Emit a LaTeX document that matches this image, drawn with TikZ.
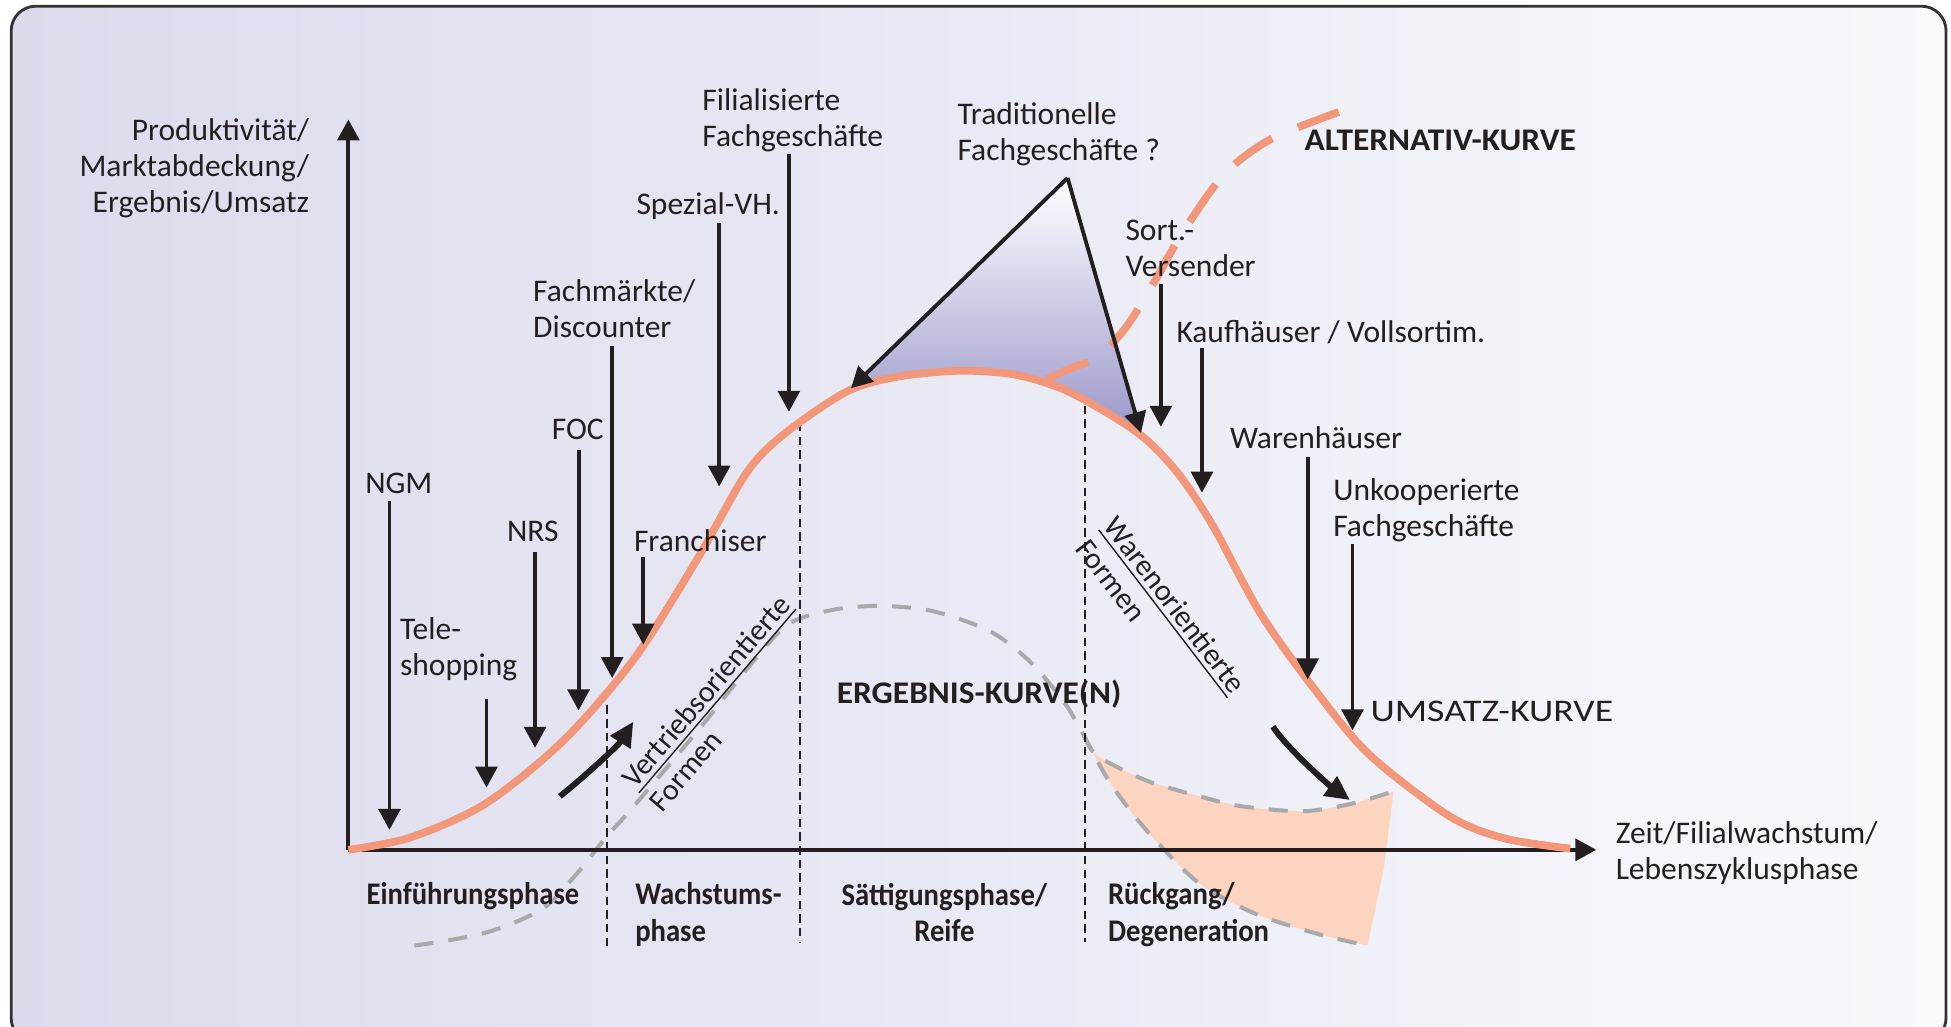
\documentclass[tikz,border=0pt]{standalone}
\usepackage{fontspec}
\setmainfont{Carlito}
\usetikzlibrary{arrows.meta}
\definecolor{ink}{HTML}{231F20}
\definecolor{umsatz}{HTML}{F3977B}
\definecolor{ergebnis}{HTML}{A9A9AB}
\definecolor{peach}{HTML}{FDD4BF}
\definecolor{bgl}{HTML}{DBDBED}
\definecolor{bgr}{HTML}{F9F9FC}
\definecolor{tri}{HTML}{9B97CA}
\begin{document}
\begin{tikzpicture}[x=0.0125cm, y=-0.0125cm,
  every node/.style={font=\fontsize{9}{10.3}\selectfont, text=ink, inner sep=0pt},
  lbl/.style={align=left, anchor=north west},
  phase/.style={lbl, font=\fontsize{9}{10.3}\selectfont\bfseries\addfontfeature{FakeStretch=0.91}},
  caps/.style={lbl, font=\fontsize{9}{10.3}\selectfont\bfseries\addfontfeature{FakeStretch=1.06}},
  slant/.style={anchor=base west, font=\fontsize{8.6}{10}\selectfont},
  arr/.style={draw=ink, line width=1.1pt, -{Triangle[length=6pt, width=6.2pt]}},
  axis/.style={draw=ink, line width=1.2pt, -{Triangle[length=6pt, width=6.2pt]}},
  bow/.style={draw=ink, line width=1.7pt, -{Triangle[length=7pt, width=6.5pt]}},
  sep/.style={draw=ink, line width=0.55pt, dash pattern=on 2.4pt off 1.5pt},
  kurve/.style={draw=umsatz, line width=2.2pt},
  alt/.style={draw=umsatz, line width=2.2pt, dash pattern=on 13pt off 8pt},
  erg/.style={draw=ergebnis, line width=1.15pt, dash pattern=on 5.5pt off 4.3pt}]
\useasboundingbox (0,0) rectangle (1568,825);
\clip (0,0) rectangle (1568,825);
\fill[white] (0,0) rectangle (1568,825);
\draw[line width=0.8pt, draw=black!80, rounded corners=7pt, left color=bgl, right color=bgr] (9,5) rectangle (1564,838);

\begin{scope}
  \clip plot[smooth] coordinates {(280,683) (330,673) (390,646) (453,595) (510,529) (560,450) (600,380) (630,349) (680,315) (720,303) (771,298) (815,301) (855,313) (895,335) (922,354) (948,382) (975,423) (1013,493) (1055,552) (1100,606) (1165,656) (1210,674) (1262,682)} -- (1262,0) -- (280,0) -- cycle;
  \fill[top color=white, bottom color=tri] (858,143) -- (684,312) -- (917,348) -- cycle;
\end{scope}

\fill[peach] plot[smooth] coordinates {(871,591) (880,606) (901,618) (926,629) (964,640) (998,648) (1047,652) (1086,646) (1120,636)} -- (1112,699) -- plot[smooth] coordinates {(1099,760) (1057,750) (1008,734) (964,710) (931,678) (908,651) (889,624) (871,591)} -- cycle;
\draw[erg] plot[smooth] coordinates {(333,760) (389,750) (435,731) (462,704) (487,673) (505,653) (540,612) (570,576) (600,538) (633,502) (670,490) (707,487) (749,491) (795,507) (827,531) (855,564) (871,591) (889,624) (908,651) (931,678) (964,710) (1008,734) (1057,750) (1099,760)};
\draw[erg] plot[smooth] coordinates {(871,591) (880,606) (901,618) (926,629) (964,640) (998,648) (1047,652) (1086,646) (1120,636)};

\coordinate (p1a) at (488,567);
\coordinate (p1b) at (488,760);
\coordinate (p2a) at (643,340);
\coordinate (p2b) at (643,757);
\coordinate (p3a) at (872,326);
\coordinate (p3b) at (872,757);
\draw[sep] (p1a) -- (p1b);
\draw[sep] (p2a) -- (p2b);
\draw[sep] (p3a) -- (p3b);

\coordinate (O) at (280,683);
\coordinate (ytop) at (280,96);
\coordinate (xend) at (1283,683);
\draw[axis] (O) -- (ytop);
\draw[axis] (O) -- (xend);

\draw[kurve] plot[smooth] coordinates {(280,683) (330,673) (390,646) (453,595) (510,529) (560,450) (600,380) (630,349) (680,315) (720,303) (771,298) (815,301) (855,313) (895,335) (922,354) (948,382) (975,423) (1013,493) (1055,552) (1100,606) (1165,656) (1210,674) (1262,682)};
\draw[alt] plot[smooth] coordinates {(841,305) (858,297) (882,287) (905,263) (928,226) (951,186) (984,140) (1021,112) (1076,90)};

\coordinate (apex) at (858,143);
\coordinate (trL) at (684,312);
\coordinate (trR) at (917,348);
\draw[arr] (apex) -- (trL);
\draw[arr] (apex) -- (trR);

\coordinate (ngm-a) at (313,403);
\coordinate (ngm-b) at (313,667);
\coordinate (tele-a) at (391,562);
\coordinate (tele-b) at (391,633);
\coordinate (nrs-a) at (430,444);
\coordinate (nrs-b) at (430,601);
\coordinate (foc-a) at (465,362);
\coordinate (foc-b) at (465,571);
\coordinate (fm-a) at (492,278);
\coordinate (fm-b) at (492,545);
\coordinate (fran-a) at (517,448);
\coordinate (fran-b) at (517,518);
\coordinate (spez-a) at (578,179);
\coordinate (spez-b) at (578,391);
\coordinate (fil-a) at (634,124);
\coordinate (fil-b) at (634,331);
\coordinate (sort-a) at (933,228);
\coordinate (sort-b) at (933,343);
\coordinate (kauf-a) at (966,280);
\coordinate (kauf-b) at (966,396);
\coordinate (waren-a) at (1051,367);
\coordinate (waren-b) at (1051,546);
\coordinate (unko-a) at (1087,437);
\coordinate (unko-b) at (1087,587);
\draw[arr] (ngm-a) -- (ngm-b);
\draw[arr] (tele-a) -- (tele-b);
\draw[arr] (nrs-a) -- (nrs-b);
\draw[arr] (foc-a) -- (foc-b);
\draw[arr] (fm-a) -- (fm-b);
\draw[arr] (fran-a) -- (fran-b);
\draw[arr] (spez-a) -- (spez-b);
\draw[arr] (fil-a) -- (fil-b);
\draw[arr] (sort-a) -- (sort-b);
\draw[arr] (kauf-a) -- (kauf-b);
\draw[arr] (waren-a) -- (waren-b);
\draw[arr] (unko-a) -- (unko-b);

\coordinate (vb-a) at (450,640);
\coordinate (vb-b) at (509,580);
\coordinate (wo-a) at (1023,584);
\coordinate (wo-b) at (1085,643);
\draw[bow] (vb-a) .. controls (470,624) and (497,599) .. (vb-b);
\draw[bow] (wo-a) .. controls (1035,602) and (1068,631) .. (wo-b);

\node[lbl, anchor=north east, align=right] (yax) at (249,95) {Produktivität/\\Marktabdeckung/\\Ergebnis/Umsatz};
\node[lbl] (xax) at (1298,660) {Zeit/Filialwachstum/\\Lebenszyklusphase};
\node[lbl] (ngm) at (293,380) {NGM};
\node[lbl] (tele) at (321,496) {Tele-\\shopping};
\node[lbl] (nrs) at (407,418) {NRS};
\node[lbl] (foc) at (443,336) {FOC};
\node[lbl] (fm) at (428,224) {Fachmärkte/\\Discounter};
\node[lbl] (fran) at (509,425) {Franchiser};
\node[lbl] (spez) at (511,154) {Spezial-VH.};
\node[lbl] (fil) at (564,71) {Filialisierte\\Fachgeschäfte};
\node[lbl] (trad) at (769,82) {Traditionelle\\Fachgeschäfte ?};
\node[lbl] (sort) at (904,176) {Sort.-\\Versender};
\node[lbl] (kauf) at (945,257) {Kaufhäuser / Vollsortim.};
\node[lbl] (waren) at (988,342) {Warenhäuser};
\node[lbl] (unko) at (1071,384) {Unkooperierte\\Fachgeschäfte};
\node[lbl, font=\fontsize{9}{10.3}\selectfont\addfontfeature{FakeStretch=1.2}] (umsatz) at (1101,563) {UMSATZ-KURVE};
\node[caps] (alttxt) at (1048,104) {ALTERNATIV-KURVE};
\node[caps] (ergtxt) at (672,546) {ERGEBNIS-KURVE(N)};
\node[slant, rotate=49.5] (vb1) at (510,635) {\underline{Vertriebsorientierte}};
\node[slant, rotate=49.5] (vb2) at (532,654) {Formen};
\node[slant, rotate=-52.5] (wo1) at (886,423) {\underline{Warenorientierte}};
\node[slant, rotate=-52.5] (wo2) at (863,441) {Formen};
\node[phase] (einf) at (294,709) {Einführungsphase};
\node[phase] (wachs) at (510,709) {Wachstums-\\phase};
\node[phase, anchor=north, align=center] (saett) at (759,709) {Sättigungsphase/\\Reife};
\node[phase] (rueck) at (890,709) {Rückgang/\\Degeneration};
\end{tikzpicture}
\end{document}
